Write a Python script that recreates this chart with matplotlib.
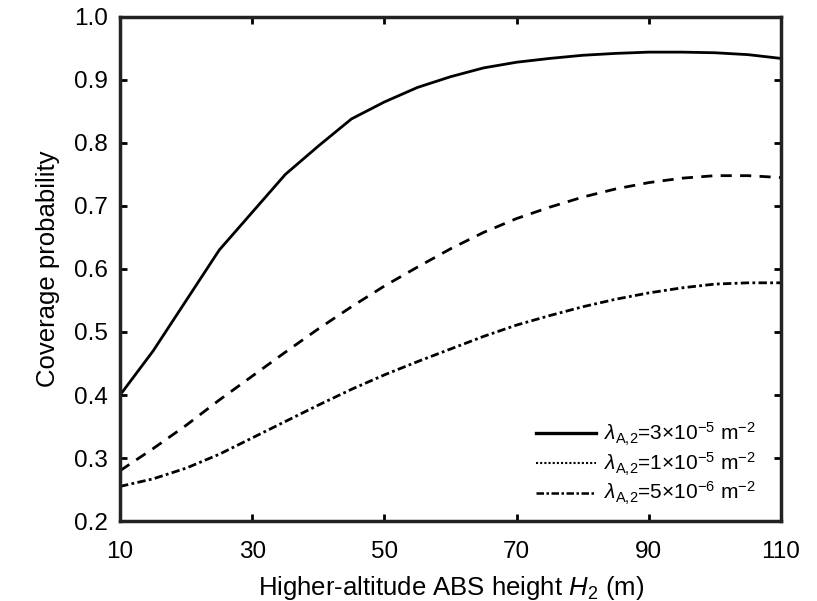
import matplotlib
matplotlib.use('Agg')
import matplotlib.pyplot as plt
from matplotlib.lines import Line2D

plt.rcParams['font.family'] = ['Liberation Sans', 'DejaVu Sans']
plt.rcParams['mathtext.fontset'] = 'custom'
plt.rcParams['mathtext.rm'] = 'Liberation Sans'
plt.rcParams['mathtext.it'] = 'Liberation Sans:italic'

heights = [10, 15, 20, 25, 30, 35, 40, 45, 50, 55, 60, 65, 70, 75, 80, 85, 90, 95, 100, 105, 110]
cov_3e5 = [0.40, 0.47, 0.55, 0.63, 0.69, 0.75, 0.795, 0.838, 0.865, 0.888, 0.905, 0.919, 0.928, 0.934, 0.939, 0.942, 0.944, 0.944, 0.943, 0.940, 0.934]
cov_1e5 = [0.28, 0.315, 0.352, 0.392, 0.43, 0.468, 0.505, 0.54, 0.573, 0.603, 0.632, 0.658, 0.680, 0.698, 0.714, 0.727, 0.737, 0.744, 0.748, 0.748, 0.745]
cov_5e6 = [0.255, 0.267, 0.284, 0.306, 0.332, 0.358, 0.384, 0.409, 0.432, 0.453, 0.473, 0.493, 0.511, 0.526, 0.540, 0.552, 0.562, 0.570, 0.576, 0.578, 0.578]
labels = [r'$\lambda_{\mathrm{A{,}2}}$=3×10$^{-5}$ m$^{-2}$',
          r'$\lambda_{\mathrm{A{,}2}}$=1×10$^{-5}$ m$^{-2}$',
          r'$\lambda_{\mathrm{A{,}2}}$=5×10$^{-6}$ m$^{-2}$']
x_ticks = [10, 30, 50, 70, 90, 110]
y_ticks = [0.2, 0.3, 0.4, 0.5, 0.6, 0.7, 0.8, 0.9, 1.0]

fig = plt.figure(figsize=(8.17, 6.01), dpi=100)
ax = fig.add_axes([0.147, 0.133, 0.809, 0.839])

ax.plot(heights, cov_3e5, color='black', linewidth=2.0, linestyle='-')
ax.plot(heights, cov_1e5, color='black', linewidth=2.0, linestyle=(0, (4, 3)))
ax.plot(heights, cov_5e6, color='black', linewidth=2.0, linestyle=(0, (3, 1.2, 1, 1.2)))

# legend in the original shows a dotted line for the middle curve
handles = [Line2D([], [], color='black', linewidth=2.4, linestyle='-'),
           Line2D([], [], color='black', linewidth=1.5, linestyle=(0, (1, 1))),
           Line2D([], [], color='black', linewidth=1.8, linestyle=(0, (3, 1, 1, 1)))]
ax.legend(handles, labels, loc='lower right', frameon=False, fontsize=15,
          handlelength=2.9, handletextpad=0.4, labelspacing=0.12,
          borderaxespad=0, borderpad=0, bbox_to_anchor=(0.962, 0.027))

ax.set_xlim(10, 110)
ax.set_ylim(0.2, 1.0)
ax.set_xticks(x_ticks)
ax.set_yticks(y_ticks)
ax.set_yticklabels(['%.1f' % v for v in y_ticks])
ax.tick_params(direction='in', top=True, right=True, length=5, width=2,
               labelsize=17.5)
ax.tick_params(axis='x', pad=14)
ax.tick_params(axis='y', pad=9)
for s in ax.spines.values():
    s.set_linewidth(2.5)
    s.set_color('#222222')

ax.set_xlabel(r'Higher-altitude ABS height $H_2$ (m)', fontsize=18.5, labelpad=8)
ax.set_ylabel('Coverage probability', fontsize=18.5, labelpad=10)

fig.savefig('out.png', dpi=100)
